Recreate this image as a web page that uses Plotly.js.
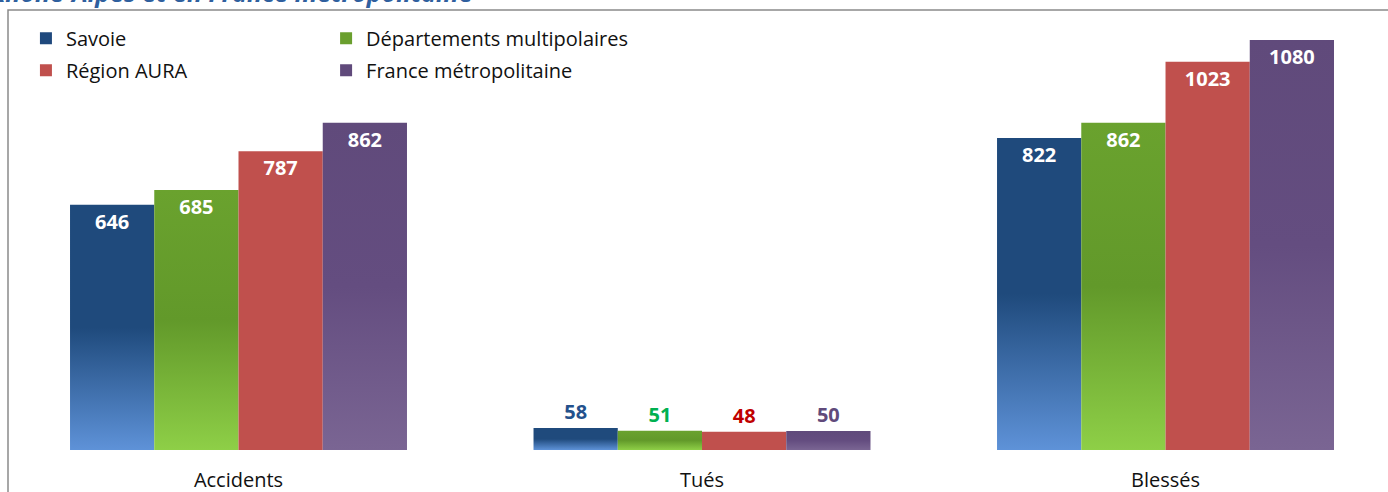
<!DOCTYPE html>
<html>
<head>
<meta charset="utf-8">
<script src="https://cdn.plot.ly/plotly-3.0.1.min.js"></script>
<style>
  html, body { margin: 0; padding: 0; background: #fff; }
  #chart { width: 1388px; height: 492px; }
</style>
</head>
<body>
<div id="chart"></div>
<script>
const categories = ["Accidents", "Tués", "Blessés"];
const seriesNames = ["Savoie", "Départements multipolaires", "Région AURA", "France métropolitaine"];
const savoie = [646, 58, 822];
const departements = [685, 51, 862];
const regionAura = [787, 48, 1023];
const franceMetro = [862, 50, 1080];

const seriesValues = [savoie, departements, regionAura, franceMetro];
const baseColors = ["#1F497D", "#6A9F2E", "#C0504D", "#604A7B"];
const killedLabelColors = ["#24518C", "#00B050", "#C00000", "#604A7B"];
const legendIds = ["legend", "legend2", "legend", "legend2"];

// vertical shading per series: [offset, colour]
const gradients = [
  [[0, "#1F4A7C"], [0.5, "#1F4A7C"], [1, "#5E92D8"]],
  [[0, "#6AA22E"], [0.5, "#62992A"], [1, "#8ECF47"]],
  [[0, "#C0504D"], [1, "#C0504D"]],
  [[0, "#604A7B"], [0.5, "#644D80"], [1, "#7A6593"]],
];

const font = "'Open Sans', 'Liberation Sans', sans-serif";

const traces = seriesNames.map((name, i) => ({
  type: "bar",
  name: name,
  x: categories,
  y: seriesValues[i],
  legend: legendIds[i],
  legendgroup: name,
  marker: { color: baseColors[i], line: { width: 0 } },
  text: seriesValues[i].map(String),
  textposition: categories.map((c) => (c === "Tués" ? "outside" : "inside")),
  insidetextanchor: "end",
  textangle: 0,
  constraintext: "none",
  cliponaxis: false,
  textfont: {
    family: font,
    size: 20,
    weight: 700,
    color: categories.map((c) => (c === "Tués" ? killedLabelColors[i] : "#ffffff")),
  },
  hoverinfo: "skip",
}));

const legendBase = {
  orientation: "v",
  xanchor: "left",
  yanchor: "top",
  y: 0.98,
  bgcolor: "rgba(0,0,0,0)",
  font: { family: font, size: 20, color: "#111" },
  tracegroupgap: 3,
  traceorder: "grouped",
};

const layout = {
  width: 1388,
  height: 492,
  margin: { l: 8, r: 0, t: 10, b: 42, autoexpand: false },
  paper_bgcolor: "#ffffff",
  plot_bgcolor: "#ffffff",
  barmode: "group",
  bargap: 0.273,
  bargroupgap: 0,
  showlegend: true,
  legend: Object.assign({}, legendBase, { x: 0.013 }),
  legend2: Object.assign({}, legendBase, { x: 0.2305 }),
  xaxis: {
    type: "category",
    range: [-0.4973, 2.48],
    showline: false,
    showgrid: false,
    zeroline: false,
    ticks: "",
    ticklabelstandoff: 16,
    tickfont: { family: font, size: 20, color: "#111" },
    fixedrange: true,
  },
  yaxis: {
    range: [0, 1159],
    visible: false,
    fixedrange: true,
  },
  shapes: [
    {
      type: "rect",
      xref: "paper",
      yref: "paper",
      x0: 0,
      x1: 1.05,
      y0: -0.3,
      y1: 1,
      line: { color: "#8a8a8a", width: 1.5 },
      fillcolor: "rgba(0,0,0,0)",
      layer: "below",
    },
  ],
  annotations: [
    {
      text: "<b><i>Rhône-Alpes et en France métropolitaine</i></b>",
      xref: "paper",
      yref: "paper",
      x: 0.3384,
      y: 1,
      xanchor: "right",
      yanchor: "bottom",
      yshift: -1,
      showarrow: false,
      font: { family: font, size: 25, color: "#2F5F9E" },
    },
  ],
};

function applyGradients(gd) {
  const svg = gd.querySelector(".main-svg");
  let defs = svg.querySelector("defs");
  if (!defs) {
    defs = document.createElementNS("http://www.w3.org/2000/svg", "defs");
    svg.insertBefore(defs, svg.firstChild);
  }
  gradients.forEach((stops, i) => {
    const id = "barshade" + i;
    if (!svg.querySelector("#" + id)) {
      const lg = document.createElementNS("http://www.w3.org/2000/svg", "linearGradient");
      lg.setAttribute("id", id);
      lg.setAttribute("x1", "0");
      lg.setAttribute("y1", "0");
      lg.setAttribute("x2", "0");
      lg.setAttribute("y2", "1");
      stops.forEach(([offset, colour]) => {
        const s = document.createElementNS("http://www.w3.org/2000/svg", "stop");
        s.setAttribute("offset", offset);
        s.setAttribute("stop-color", colour);
        lg.appendChild(s);
      });
      defs.appendChild(lg);
    }
  });
  gd.querySelectorAll(".barlayer .trace").forEach((tr, i) => {
    tr.querySelectorAll(".point path").forEach((p) => {
      p.style.fill = "url(#barshade" + i + ")";
    });
  });
}

const gd = document.getElementById("chart");
Plotly.newPlot(gd, traces, layout, { displayModeBar: false, staticPlot: true }).then(() => {
  applyGradients(gd);
  gd.on("plotly_afterplot", () => applyGradients(gd));
});
</script>
</body>
</html>
